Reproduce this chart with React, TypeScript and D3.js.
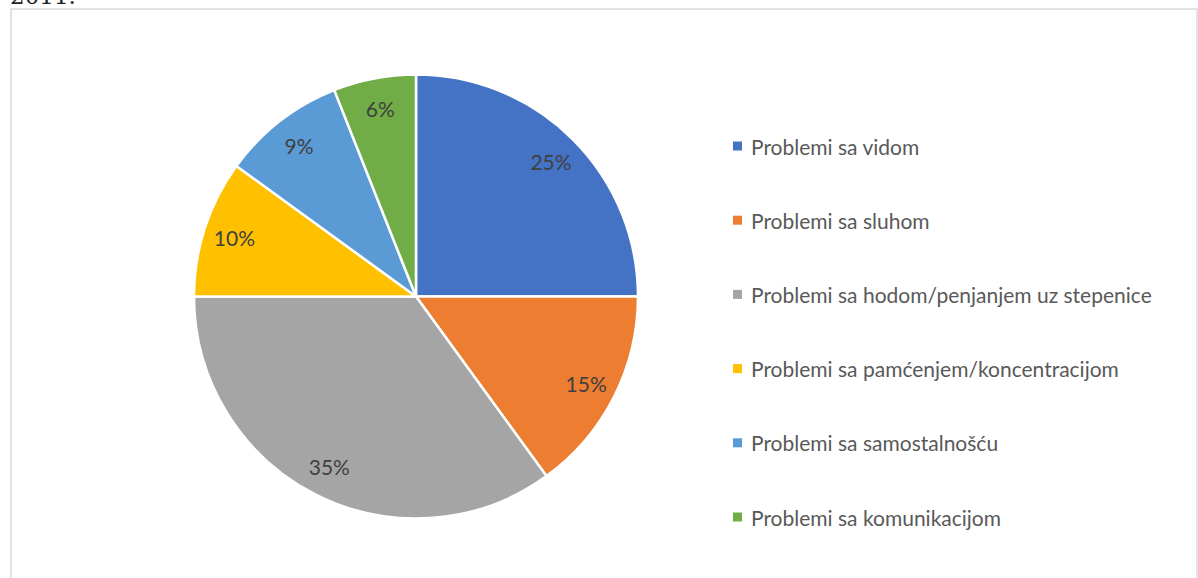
import React, { useEffect, useRef } from 'react';
import * as d3 from 'd3';

const categories = [
  'Problemi sa vidom',
  'Problemi sa sluhom',
  'Problemi sa hodom/penjanjem uz stepenice',
  'Problemi sa pamćenjem/koncentracijom',
  'Problemi sa samostalnošću',
  'Problemi sa komunikacijom',
];
const shares = [25, 15, 35, 10, 9, 6];
const colors = ['#4472C4', '#ED7D31', '#A5A5A5', '#FFC000', '#5B9BD5', '#70AD47'];

const W = 1198;
const H = 578;

export default function App() {
  const ref = useRef<SVGSVGElement | null>(null);

  useEffect(() => {
    const svg = d3.select(ref.current);
    svg.selectAll('*').remove();

    // year caption, cut off at the top like the source
    svg.append('text')
      .attr('x', 10)
      .attr('y', 4)
      .attr('font-family', 'DejaVu Serif, serif')
      .attr('font-size', 23)
      .attr('fill', '#222')
      .text('2011.');

    // chart frame
    svg.append('rect')
      .attr('x', 11)
      .attr('y', 9)
      .attr('width', 1186)
      .attr('height', 600)
      .attr('fill', 'none')
      .attr('stroke', '#d9d9d9')
      .attr('stroke-width', 1.5);

    const cx = 416;
    const cy = 296.5;
    const r = 222;

    const pie = d3.pie<number>().sort(null).value(d => d);
    const arcs = pie(shares);
    const arc = d3.arc<d3.PieArcDatum<number>>().innerRadius(0).outerRadius(r);
    const labelArc = d3.arc<d3.PieArcDatum<number>>().innerRadius(r * 0.86).outerRadius(r * 0.86);

    const g = svg.append('g').attr('transform', `translate(${cx},${cy})`);

    g.selectAll('path')
      .data(arcs)
      .enter()
      .append('path')
      .attr('d', arc)
      .attr('fill', (d, i) => colors[i])
      .attr('stroke', '#fff')
      .attr('stroke-width', 2.5)
      .attr('stroke-linejoin', 'round');

    g.selectAll('text.pct')
      .data(arcs)
      .enter()
      .append('text')
      .attr('class', 'pct')
      .attr('transform', d => `translate(${labelArc.centroid(d)})`)
      .attr('text-anchor', 'middle')
      .attr('dominant-baseline', 'central')
      .attr('font-family', 'Lato, sans-serif')
      .attr('font-size', 21)
      .attr('fill', '#404040')
      .text(d => `${d.data}%`);

    // legend
    const ly = d3.scalePoint<string>()
      .domain(categories)
      .range([146, 517]);

    const item = svg.append('g')
      .selectAll('g')
      .data(categories)
      .enter()
      .append('g')
      .attr('transform', d => `translate(733,${ly(d)})`);

    item.append('rect')
      .attr('x', 0)
      .attr('y', -4.5)
      .attr('width', 9)
      .attr('height', 9)
      .attr('fill', (d, i) => colors[i]);

    item.append('text')
      .attr('x', 18)
      .attr('y', 0)
      .attr('dominant-baseline', 'central')
      .attr('font-family', 'Lato, sans-serif')
      .attr('font-size', 21)
      .attr('fill', '#595959')
      .text(d => d);
  }, []);

  return (
    <svg
      ref={ref}
      width={W}
      height={H}
      style={{ position: 'absolute', left: 0, top: 0, background: '#fff' }}
    />
  );
}
